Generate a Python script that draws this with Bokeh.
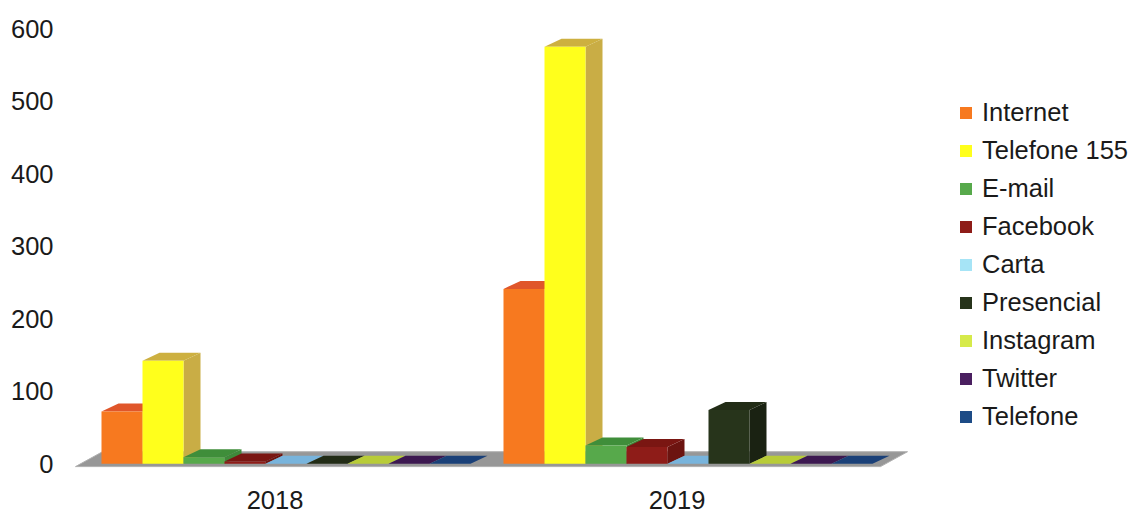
from bokeh.plotting import figure
from bokeh.models import Range1d, FixedTicker, Legend, LegendItem
from bokeh.embed import file_html
from bokeh.resources import INLINE

# ---- data ----
years = ["2018", "2019"]
series = ["Internet", "Telefone 155", "E-mail", "Facebook", "Carta",
          "Presencial", "Instagram", "Twitter", "Telefone"]
v2018 = [72, 142, 9, 3, 0, 0, 0, 0, 0]
v2019 = [241, 575, 25, 23, 0, 74, 0, 0, 0]
y_ticks = [0, 100, 200, 300, 400, 500, 600]

# ---- style ----
front_colors = ["#f7791f", "#ffff1c", "#57a94b", "#8e1c18", "#a6e4f6",
                "#27341b", "#d6ea4a", "#4a1f60", "#1d4b86"]
top_colors = ["#e0562a", "#cdb040", "#3f8e3a", "#7a1612", "#78b4dc",
              "#222c16", "#b8cc38", "#3c1850", "#1a4078"]
side_colors = ["#d8661c", "#c9ad45", "#3f8a3a", "#6c1410", "#7fb0d0",
               "#1a2212", "#aabb30", "#36164a", "#143868"]

UNIT = 402.0                # px per category
BAR_W = 41.0 / UNIT         # bar width in category units
GROUP_SHIFT = 11.0 / UNIT   # bars sit slightly right of label position
DX = 17.0 / UNIT            # 3D depth, x
DY = 11.0                   # 3D depth, y (data units)
FONT = "Liberation Sans"

p = figure(width=1148, height=512, output_backend="svg", toolbar_location=None,
           x_range=Range1d(-204.5 / UNIT, 873.5 / UNIT), y_range=Range1d(-8, 600),
           min_border_left=70, min_border_right=0, min_border_top=28,
           min_border_bottom=43)
p.outline_line_color = None
p.xgrid.visible = False
p.ygrid.visible = False
p.background_fill_color = "white"

n = len(series)
values = [v2018, v2019]

# floor
f_left = 0 + GROUP_SHIFT - (n / 2) * BAR_W - 26.0 / UNIT
f_right = (len(years) - 1) + GROUP_SHIFT + (n / 2) * BAR_W + 8.0 / UNIT
f_dx = 27.0 / UNIT
p.patch(x=[f_left, f_right, f_right + f_dx, f_left + f_dx],
        y=[-4, -4, 16.5, 16.5], fill_color="#979797", line_color="#b0b0b0",
        line_width=1)

legend_items = []
for i, name in enumerate(series):
    xs_side, ys_side, xs_top, ys_top, xc, tops = [], [], [], [], [], []
    for g in range(len(years)):
        v = values[g][i]
        c = g + GROUP_SHIFT + (i - (n - 1) / 2) * BAR_W
        l, r = c - BAR_W / 2, c + BAR_W / 2
        xs_side.append([r, r + DX, r + DX, r])
        ys_side.append([0, DY, v + DY, v])
        xs_top.append([l, r, r + DX, l + DX])
        ys_top.append([v, v, v + DY, v + DY])
        xc.append(c)
        tops.append(v)
    p.patches(xs=xs_side, ys=ys_side, fill_color=side_colors[i], line_color=None)
    p.patches(xs=xs_top, ys=ys_top, fill_color=top_colors[i], line_color=None)
    r_front = p.vbar(x=xc, top=tops, bottom=0, width=BAR_W,
                     fill_color=front_colors[i], line_color=None)
    legend_items.append(LegendItem(label=name, renderers=[r_front]))

legend = Legend(items=legend_items, location=(888, 37), glyph_width=15,
                glyph_height=15, label_text_font_size="25.5px",
                label_text_font=FONT, label_text_color="#1a1a1a",
                label_height=31, spacing=7, padding=0, margin=0,
                border_line_color=None, background_fill_alpha=0,
                label_standoff=9)
p.add_layout(legend)

# axes
p.xaxis.ticker = FixedTicker(ticks=list(range(len(years))))
p.xaxis.major_label_overrides = {i: y for i, y in enumerate(years)}
p.yaxis.ticker = FixedTicker(ticks=y_ticks)
for ax in (p.xaxis, p.yaxis):
    ax.axis_line_color = None
    ax.major_tick_line_color = None
    ax.minor_tick_line_color = None
    ax.major_label_text_font = FONT
    ax.major_label_text_font_size = "25.5px"
    ax.major_label_text_color = "#1a1a1a"
p.xaxis.major_label_standoff = 15
p.yaxis.major_label_standoff = 11

open("out.html", "w").write(file_html(p, INLINE))
